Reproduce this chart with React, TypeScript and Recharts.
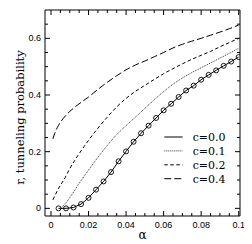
import React from 'react';
import { LineChart, Line, XAxis, YAxis, Legend, Label } from 'recharts';

// c = 0.0 (solid line with open circles)
const alphaC00 = [0.004, 0.008, 0.012, 0.016, 0.02, 0.024, 0.028, 0.032, 0.036, 0.04, 0.044, 0.048, 0.052, 0.056, 0.06, 0.064, 0.068, 0.072, 0.076, 0.08, 0.084, 0.088, 0.092, 0.096, 0.1];
const rC00 = [0, 0, 0.003, 0.015, 0.037, 0.066, 0.095, 0.128, 0.166, 0.201, 0.235, 0.265, 0.292, 0.319, 0.346, 0.369, 0.393, 0.416, 0.433, 0.454, 0.471, 0.487, 0.503, 0.518, 0.534];

// c = 0.1 (dotted)
const alphaC01 = [0.005, 0.008, 0.01, 0.015, 0.02, 0.025, 0.03, 0.035, 0.04, 0.045, 0.05, 0.055, 0.06, 0.065, 0.07, 0.075, 0.08, 0.085, 0.09, 0.095, 0.1];
const rC01 = [0, 0.02, 0.038, 0.088, 0.135, 0.18, 0.222, 0.26, 0.292, 0.322, 0.353, 0.383, 0.412, 0.438, 0.46, 0.479, 0.496, 0.513, 0.53, 0.547, 0.565];

// c = 0.2 (short dashes)
const alphaC02 = [0.001, 0.004, 0.0075, 0.01, 0.0125, 0.015, 0.0175, 0.02, 0.025, 0.03, 0.035, 0.04, 0.045, 0.05, 0.055, 0.06, 0.065, 0.07, 0.075, 0.08, 0.085, 0.09, 0.095, 0.1];
const rC02 = [0.03, 0.07, 0.108, 0.14, 0.168, 0.193, 0.217, 0.24, 0.283, 0.322, 0.358, 0.388, 0.413, 0.434, 0.455, 0.475, 0.493, 0.51, 0.526, 0.54, 0.554, 0.57, 0.585, 0.6];

// c = 0.4 (long dashes)
const alphaC04 = [0.001, 0.002, 0.004, 0.0066, 0.01, 0.014, 0.02, 0.025, 0.03, 0.035, 0.04, 0.045, 0.05, 0.055, 0.06, 0.065, 0.07, 0.075, 0.08, 0.085, 0.09, 0.095, 0.1];
const rC04 = [0.245, 0.265, 0.293, 0.318, 0.342, 0.364, 0.393, 0.42, 0.445, 0.468, 0.489, 0.506, 0.52, 0.535, 0.55, 0.566, 0.579, 0.59, 0.6, 0.611, 0.622, 0.634, 0.647];

const seriesNames = ['c=0.0', 'c=0.1', 'c=0.2', 'c=0.4'];
const seriesDash = ['', '1 1', '3.5 2.5', '7 3'];
const seriesColor = ['#000', '#333', '#000', '#000'];

const xTicks = [0, 0.005, 0.01, 0.015, 0.02, 0.025, 0.03, 0.035, 0.04, 0.045, 0.05, 0.055, 0.06, 0.065, 0.07, 0.075, 0.08, 0.085, 0.09, 0.095, 0.1];
const xMajorTicks = [0, 0.02, 0.04, 0.06, 0.08, 0.1];
const yTicks = [0, 0.05, 0.1, 0.15, 0.2, 0.25, 0.3, 0.35, 0.4, 0.45, 0.5, 0.55, 0.6, 0.65];
const yMajorTicks = [0, 0.2, 0.4, 0.6];

const toPts = (xs: number[], ys: number[]) => xs.map((x, i) => ({ x, y: ys[i] }));
const data00 = toPts(alphaC00, rC00);
const data01 = toPts(alphaC01, rC01);
const data02 = toPts(alphaC02, rC02);
const data04 = toPts(alphaC04, rC04);

const isIn = (arr: number[], v: number) => arr.some((t) => Math.abs(t - v) < 1e-9);

const tickFont = { fontFamily: '"Liberation Sans", Arial, sans-serif', fontSize: 9, fill: '#000' };
const serifFont = '"DejaVu Serif", serif';

const BottomTick = (p: any) => {
  const v = p.payload.value;
  const major = isIn(xMajorTicks, v);
  return (
    <g>
      <line x1={p.x} x2={p.x} y1={p.y} y2={p.y - (major ? 5 : 3)} stroke="#000" strokeWidth={1} />
      {major && (
        <text x={p.x} y={p.y + 12} textAnchor="middle" {...tickFont}>
          {String(v)}
        </text>
      )}
    </g>
  );
};

const TopTick = (p: any) => {
  const v = p.payload.value;
  const major = isIn(xMajorTicks, v);
  return <line x1={p.x} x2={p.x} y1={p.y} y2={p.y + (major ? 5 : 3)} stroke="#000" strokeWidth={1} />;
};

const LeftTick = (p: any) => {
  const v = p.payload.value;
  const major = isIn(yMajorTicks, v);
  return (
    <g>
      <line x1={p.x} x2={p.x + (major ? 5 : 3)} y1={p.y} y2={p.y} stroke="#000" strokeWidth={1} />
      {major && (
        <text x={p.x - 4} y={p.y + 3} textAnchor="end" {...tickFont}>
          {String(v)}
        </text>
      )}
    </g>
  );
};

const RightTick = (p: any) => {
  const v = p.payload.value;
  const major = isIn(yMajorTicks, v);
  return <line x1={p.x} x2={p.x - (major ? 5 : 3)} y1={p.y} y2={p.y} stroke="#000" strokeWidth={1} />;
};

const LegendContent = (props: any) => {
  const payload = props.payload || [];
  return (
    <svg width={80} height={60} style={{ display: 'block' }}>
      {payload.map((entry: any, i: number) => {
        const idx = seriesNames.indexOf(entry.value);
        const dash = idx >= 0 ? seriesDash[idx] : '';
        const cy = 9 + i * 13.9;
        return (
          <g key={entry.value}>
            <line x1={6.3} x2={24.7} y1={cy} y2={cy} stroke={idx >= 0 ? seriesColor[idx] : '#000'} strokeWidth={1} strokeDasharray={dash || undefined} />
            <text x={34.7} y={cy + 4} fontFamily={serifFont} fontSize={11} fill="#000">
              {entry.value}
            </text>
          </g>
        );
      })}
    </svg>
  );
};

const YLabel = (p: any) => {
  const vb = p.viewBox || { x: 0, y: 0, width: 0, height: 0 };
  const x = vb.x + 15.5;
  const y = vb.y + vb.height / 2 + 4.5;
  return (
    <text x={x} y={y} transform={`rotate(-90 ${x} ${y})`} textAnchor="middle" fontFamily={serifFont} fontSize={11.5} fill="#000">
      r, tunneling probability
    </text>
  );
};

const XLabel = (p: any) => {
  const vb = p.viewBox || { x: 0, y: 0, width: 0, height: 0 };
  const x = vb.x + vb.width / 2;
  const y = vb.y + 22.5;
  return (
    <text x={x} y={y} textAnchor="middle" fontFamily={serifFont} fontSize={12} fill="#000">
      α
    </text>
  );
};

export default function App() {
  return (
    <LineChart width={244} height={236} margin={{ top: 1, right: 11, bottom: 0, left: 0 }}>
      <XAxis
        xAxisId="b"
        type="number"
        dataKey="x"
        domain={[-0.0032, 0.1007]}
        allowDataOverflow
        ticks={xTicks}
        interval={0}
        tickSize={0}
        tickMargin={0}
        tickLine={false}
        axisLine={{ stroke: '#000' }}
        height={28}
        tick={<BottomTick />}
      >
        <Label content={<XLabel />} />
      </XAxis>
      <XAxis
        xAxisId="t"
        orientation="top"
        type="number"
        dataKey="x"
        domain={[-0.0032, 0.1007]}
        allowDataOverflow
        ticks={xTicks}
        interval={0}
        tickSize={0}
        tickMargin={0}
        tickLine={false}
        axisLine={{ stroke: '#000' }}
        height={1}
        tick={<TopTick />}
      />
      <YAxis
        yAxisId="l"
        type="number"
        domain={[-0.027, 0.7]}
        allowDataOverflow
        ticks={yTicks}
        interval={0}
        tickSize={0}
        tickMargin={0}
        tickLine={false}
        axisLine={{ stroke: '#000' }}
        width={37}
        tick={<LeftTick />}
      >
        <Label content={<YLabel />} />
      </YAxis>
      <YAxis
        yAxisId="r"
        orientation="right"
        type="number"
        domain={[-0.027, 0.7]}
        allowDataOverflow
        ticks={yTicks}
        interval={0}
        tickSize={0}
        tickMargin={0}
        tickLine={false}
        axisLine={{ stroke: '#000' }}
        width={1}
        tick={<RightTick />}
      />
      <Legend
        layout="vertical"
        align="center"
        verticalAlign="middle"
        wrapperStyle={{ left: 150, top: 120, width: 80, height: 60 }}
        content={<LegendContent />}
      />
      <Line xAxisId="b" yAxisId="l" data={data00} dataKey="y" name={seriesNames[0]} type="linear" stroke={seriesColor[0]} strokeWidth={1} isAnimationActive={false}
        dot={{ r: 2.5, stroke: '#000', strokeWidth: 0.9, fill: 'none' }} activeDot={false} />
      <Line xAxisId="b" yAxisId="l" data={data01} dataKey="y" name={seriesNames[1]} type="monotone" stroke={seriesColor[1]} strokeWidth={1} strokeDasharray={seriesDash[1]} dot={false} activeDot={false} isAnimationActive={false} />
      <Line xAxisId="b" yAxisId="l" data={data02} dataKey="y" name={seriesNames[2]} type="monotone" stroke={seriesColor[2]} strokeWidth={1} strokeDasharray={seriesDash[2]} dot={false} activeDot={false} isAnimationActive={false} />
      <Line xAxisId="b" yAxisId="l" data={data04} dataKey="y" name={seriesNames[3]} type="monotone" stroke={seriesColor[3]} strokeWidth={1} strokeDasharray={seriesDash[3]} dot={false} activeDot={false} isAnimationActive={false} />
    </LineChart>
  );
}
